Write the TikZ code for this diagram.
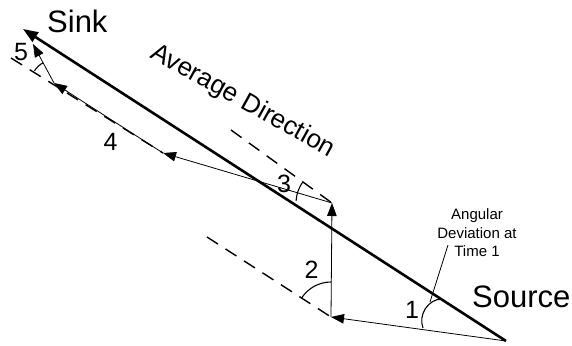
\documentclass[tikz,border=0pt]{standalone}
\usepackage{fontspec}
\setmainfont{Liberation Sans}
\usetikzlibrary{arrows.meta}
\begin{document}
\begin{tikzpicture}[x=1pt,y=1pt,
  thickline/.style={line width=2.6pt,-{Triangle[length=15pt,width=11pt]}},
  vec/.style={line width=0.8pt,-{Triangle[length=13pt,width=9.5pt]}},
  refline/.style={line width=1.4pt,dash pattern=on 13pt off 9pt},
  angarc/.style={line width=1.1pt},
  lbl/.style={font=\fontsize{25}{28}\selectfont,inner sep=0pt,anchor=base},
  big/.style={font=\fontsize{31}{35}\selectfont,inner sep=0pt,anchor=base west},
]
\useasboundingbox (0,0) rectangle (572,-345);
% points
\coordinate (S) at (506,-341);
\coordinate (K) at (23,-29);
\coordinate (P1) at (331,-317);
\coordinate (P2) at (332,-203);
\coordinate (P3) at (163,-153);
\coordinate (P4) at (54,-83);
\coordinate (P5) at (33,-44);
% dashed reference ends
\coordinate (D1) at (207,-237);
\coordinate (D2) at (231,-130);
\coordinate (D3) at (11,-58);
% reference lines
\draw[refline] (D1) -- (P1);
\draw[refline] (D2) -- (P2);
\draw[refline] (D3) -- (P3);
% average direction
\draw[thickline] (S) -- (K);
% path vectors
\draw[vec] (S) -- (P1);
\draw[vec] (P1) -- (P2);
\draw[vec] (P2) -- (P3);
\draw[vec] (P3) -- (P4);
\draw[vec] (P4) -- (P5);
% angle arcs
\draw[angarc] (423,-328) .. controls (418,-315) and (428,-299) .. (442,-299);
\draw[angarc] ([shift={(90:35pt)}]P1) arc[start angle=90,end angle=147,radius=35pt];
\draw[angarc] ([shift={(144:36pt)}]P2) arc[start angle=144,end angle=177,radius=36pt];
\draw[angarc] ([shift={(118:23pt)}]P4) arc[start angle=118,end angle=148,radius=23pt];
% labels
\node[big] (sink) at (47,-33) {Sink};
\node[big] (source) at (472,-307) {Source};
\node[font=\fontsize{26}{30}\selectfont,inner sep=0pt,anchor=base west,rotate=-29] (avg) at (149,-57) {Average Direction};
\node[lbl] (n1) at (412,-318) {1};
\node[lbl] (n2) at (311.5,-278) {2};
\node[lbl] (n3) at (284,-192) {3};
\node[lbl] (n4) at (110.5,-150) {4};
\node[lbl] (n5) at (21,-60) {5};
\node[font=\fontsize{15}{18.5}\selectfont,align=center,inner sep=0pt] (ann) at (477,-233) {Angular\\Deviation at\\Time 1};
\coordinate (L1) at (448,-245);
\coordinate (L2) at (430,-302);
\draw[line width=0.8pt] (L1) -- (L2);
\end{tikzpicture}
\end{document}
